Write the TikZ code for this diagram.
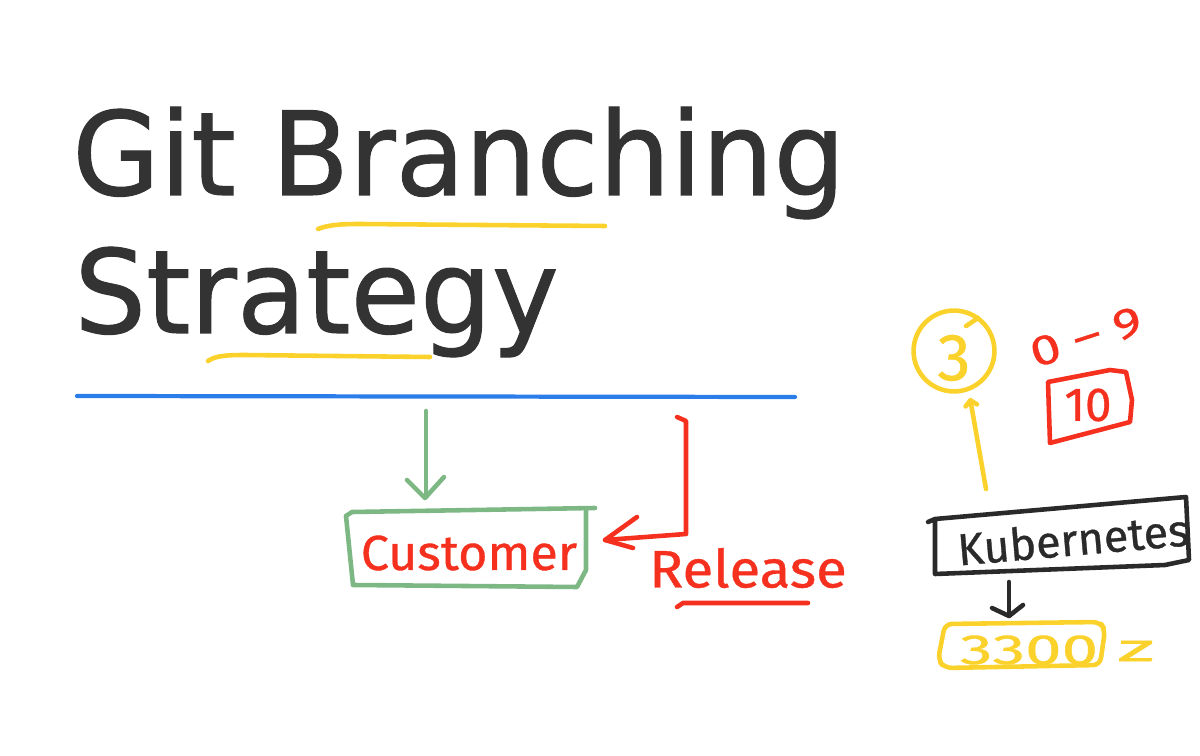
\documentclass[tikz,border=0pt]{standalone}
\usepackage{fontspec}
\usetikzlibrary{arrows.meta,positioning}
\newfontfamily\slidefont[FakeBold=0.9]{DejaVu Sans}
\newfontfamily\inkfont[FakeBold=0.7]{Fira Sans}
\definecolor{slidegray}{HTML}{333333}
\definecolor{slideblue}{HTML}{2B7DE9}
\definecolor{inkyellow}{HTML}{FBD12B}
\definecolor{inkgreen}{HTML}{7DB884}
\definecolor{inkred}{HTML}{F5301E}
\definecolor{inkblack}{HTML}{2A2A2A}
\newcommand{\inksize}[1]{\fontsize{#1}{#1}\selectfont}
\tikzset{
  ink/.style={line width=2.6pt,line cap=round,line join=round},
  barb/.style={-{Straight Barb[length=#1,width=2.2*#1,round]}},
  slidetitle/.style={anchor=base west,inner sep=0pt,text=slidegray,xscale=0.975,transform shape,font=\slidefont\inksize{66pt}},
  hand/.style={inner sep=0pt,transform shape,font=\inkfont\inksize{#1}}
}
\begin{document}
\begin{tikzpicture}[x=0.02cm,y=-0.02cm]
\useasboundingbox (0,0) rectangle (1200,756);
\node[slidetitle] (git) at (72,195) {Git Branching};
\node[slidetitle] (strategy) at (74,333) {Strategy};
\coordinate (ruleA) at (77,396);
\coordinate (ruleB) at (795,397);
\draw [slideblue,line width=2.4pt,line cap=round] (ruleA) -- (ruleB);
\draw [ink,inkyellow] (318,229) .. controls (328,225) and (340,224) .. (360,224) -- (605,226);
\draw [ink,inkyellow] (208,361) .. controls (215,356) and (225,355) .. (245,355) -- (430,357);

% customer
\node[hand=28pt,text=inkred,xscale=1.02] (customer) at (469,553) {Customer};
\coordinate (greenStart) at (426,411);
\draw [ink,inkgreen] (346,516) -- (352,512) -- (595,508);
\draw [ink,inkgreen] (586,510) -- (586,570) -- (577,587) -- (353,585) -- (346,516);
\draw [ink,inkgreen] (greenStart) -- (426,497);
\draw [ink,inkgreen] (407,480) -- (425,498) -- (444,477);
\coordinate (redStart) at (677,417);
\coordinate (redTip) at (605,540);
\draw [ink,inkred] (redStart) -- (686,421) -- (686,534) -- (redTip);
\draw [ink,inkred] (637,517) -- (redTip) -- (633,548);
\node[hand=30pt,text=inkred,xscale=1.07] (release) at (748,568) {Release};
\draw [ink,inkred] (677,607) -- (683,603) -- (808,603);

% right side
\node[draw=inkyellow,line width=2.6pt,circle,minimum size=78pt*0.59] (three) at (954,351) {};
\draw [ink,inkyellow] (966,326) -- (978,318);
\node[hand=38pt,text=inkyellow] at (954,358) {3};
\coordinate (kubeTop) at (986,489);
\draw [ink,inkyellow,barb=3pt] (kubeTop) -- (970,398);
\node[hand=24pt,text=inkred,rotate=18,xscale=1.28] (range) at (1086,337) {0 – 9};
\draw [ink,inkred] (1048,382) -- (1110,370) -- (1126,372) -- (1132,400) -- (1130,422) -- (1050,443) -- cycle;
\node[hand=27pt,text=inkred] (ten) at (1088,405) {10};
\node[hand=25.5pt,text=inkblack,rotate=5] (kube) at (1073,539) {Kubernetes};
\draw [ink,inkblack] (928,522) -- (935,519) -- (1186,497) -- (1189,560) -- (1165,565) -- (935,574) -- (935,519);
\coordinate (kubeDown) at (1009,582);
\draw [ink,inkblack] (kubeDown) -- (1009,616);
\draw [ink,inkblack] (992,608) -- (1009,616) -- (1023,605);
\draw [ink,inkyellow,rounded corners=4pt] (945,624) -- (1100,622) -- (1105,630) -- (1100,665) -- (945,668) -- (938,660) -- cycle;
\node[hand=24pt,text=inkyellow,xscale=1.55] (port) at (1029,650) {3300};
\node[hand=22pt,text=inkyellow,xscale=2.2] (zed) at (1136,651) {z};
\end{tikzpicture}
\end{document}
